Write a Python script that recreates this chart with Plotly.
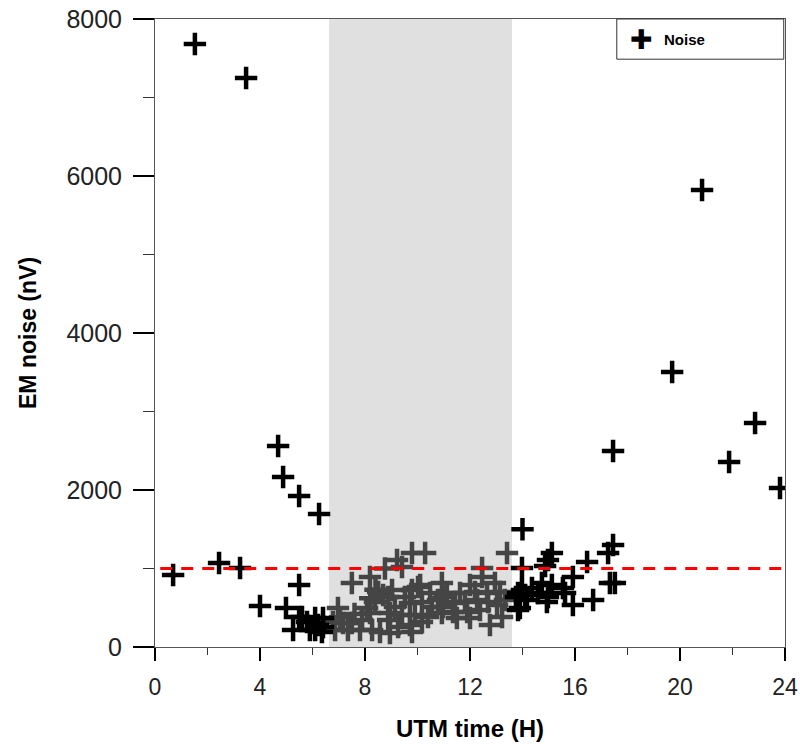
import plotly.graph_objects as go

# Black (outside shaded window) noise points: hour, nV
black_x = [0.69, 1.52, 3.47, 2.44, 3.24, 4.00, 4.69, 4.88, 5.49, 6.25, 5.49, 4.99, 5.49, 5.26,
           5.60, 6.10, 6.10, 6.40, 6.40, 5.90, 6.36, 5.79, 6.21,
           14.0, 13.98, 15.12, 14.97, 14.86, 16.46, 17.26, 17.45, 15.92, 17.33, 17.52, 14.74,
           15.12, 14.36, 15.54, 13.98, 13.75, 14.10, 14.59, 14.97, 15.62, 14.93, 13.90, 15.92,
           16.69, 13.83, 14.17, 13.83, 17.45,
           19.70, 20.84, 21.87, 22.86, 23.81]
black_y = [917, 7682, 7249, 1070, 1006, 522, 2561, 2166, 1924, 1694, 790, 497, 382, 217,
           382, 369, 217, 255, 369, 217, 191, 318, 280,
           1500, 1006, 1197, 1108, 1032, 1083, 1197, 1300, 892, 815, 815, 815,
           790, 752, 752, 726, 637, 662, 688, 637, 688, 573, 497, 535,
           599, 688, 599, 471, 2497,
           3503, 5822, 2357, 2854, 2025]

# Grey (inside shaded window) noise points
grey_x = [6.97, 7.50, 8.19, 8.76, 6.78, 7.16, 7.50, 7.89, 8.19, 8.38, 8.50, 8.69, 6.86, 7.35,
          7.81, 8.27, 8.57, 8.08, 9.79, 10.29, 9.22, 9.41, 10.93, 9.79, 10.02, 9.03, 10.48,
          11.12, 10.78, 9.52, 8.88, 9.14, 9.71, 10.17, 10.55, 10.97, 11.35, 8.95, 9.41, 9.90,
          10.40, 10.93, 9.26, 9.71, 10.17, 8.88, 8.95, 9.79, 13.41, 12.46, 12.46, 12.95, 12.00,
          11.62, 12.19, 12.65, 13.14, 13.33, 11.43, 11.81, 12.27, 12.69, 13.03, 11.35, 11.89,
          12.38, 13.22, 12.76, 11.50, 12.00, 8.40, 8.20, 10.10, 7.05, 7.60, 11.05]
grey_y = [497, 815, 892, 1000, 318, 306, 306, 344, 433, 573, 701, 662, 217, 217,
          217, 217, 191, 497, 1197, 1197, 1108, 1019, 815, 726, 764, 726, 688,
          688, 599, 637, 637, 510, 561, 573, 510, 510, 561, 433, 408, 408,
          382, 433, 255, 280, 318, 344, 178, 191, 1197, 1006, 892, 815, 790,
          688, 701, 688, 701, 599, 573, 573, 599, 573, 535, 446, 446,
          471, 382, 280, 369, 369, 730, 620, 790, 380, 420, 640]

x_ticks = [0, 4, 8, 12, 16, 20, 24]
y_ticks = [0, 2000, 4000, 6000, 8000]
shade_start, shade_end = 6.63, 13.6
threshold = 1000
series_name = "Noise"
x_title = "UTM time (H)"
y_title = "EM noise (nV)"

FONT = "Liberation Sans, Arial, sans-serif"

fig = go.Figure()
fig.add_trace(go.Scatter(
    x=grey_x, y=grey_y, mode="markers", showlegend=False,
    marker=dict(symbol="cross-thin", size=16, line=dict(width=4.5, color="#454545")),
))
fig.add_trace(go.Scatter(
    x=black_x, y=black_y, mode="markers", name=series_name, showlegend=False,
    marker=dict(symbol="cross-thin", size=16, line=dict(width=4.5, color="black")),
))

fig.add_shape(type="rect", xref="x", yref="paper", x0=shade_start, x1=shade_end, y0=0, y1=1,
              fillcolor="#e0e0e0", line=dict(width=0), layer="below")
fig.add_shape(type="line", xref="x", yref="y", x0=0.2, x1=24.2, y0=threshold, y1=threshold,
              line=dict(color="red", width=3, dash="12px,9px"), layer="above")

# legend box (drawn manually)
fig.add_shape(type="rect", xref="paper", yref="paper", x0=0.733, x1=0.998, y0=0.936, y1=1.0,
              fillcolor="white", line=dict(color="#333", width=1), layer="above")
fig.add_annotation(xref="paper", yref="paper", x=0.7725, y=0.968, text="✚", showarrow=False,
                   xanchor="center", yanchor="middle",
                   font=dict(size=27, color="black", family="DejaVu Sans"))
fig.add_annotation(xref="paper", yref="paper", x=0.804, y=0.968, text="<b>" + series_name + "</b>",
                   showarrow=False, xanchor="left", yanchor="middle",
                   font=dict(size=15, color="black", family=FONT))

# axis titles
fig.add_annotation(xref="paper", yref="paper", x=0.5, y=-0.129, text="<b>" + x_title + "</b>",
                   showarrow=False, xanchor="center", yanchor="middle",
                   font=dict(size=24, color="black", family=FONT))
fig.add_annotation(xref="paper", yref="paper", x=-0.2016, y=0.5, text="<b>" + y_title + "</b>",
                   showarrow=False, xanchor="center", yanchor="middle", textangle=-90,
                   font=dict(size=23, color="black", family=FONT))

fig.update_layout(
    width=800, height=744,
    margin=dict(l=155, r=15, t=19, b=97),
    plot_bgcolor="white", paper_bgcolor="white",
    font=dict(family=FONT, color="black"),
    showlegend=False,
)
fig.update_xaxes(
    range=[0, 24], tickvals=x_ticks, ticktext=[str(v) for v in x_ticks], automargin=False,
    ticks="outside", ticklen=13, tickwidth=2, tickcolor="black", ticklabelstandoff=6,
    minor=dict(dtick=2, ticks="outside", ticklen=7, tickwidth=1, tickcolor="#333"),
    showline=True, linecolor="#555", linewidth=1, mirror=True, showgrid=False, zeroline=False,
    tickfont=dict(size=23, color="#222"),
)
fig.update_yaxes(
    range=[0, 8000], tickvals=y_ticks, ticktext=[str(v) for v in y_ticks], automargin=False,
    ticks="outside", ticklen=21, tickwidth=2, tickcolor="black", ticklabelstandoff=6,
    minor=dict(dtick=1000, ticks="outside", ticklen=11, tickwidth=1, tickcolor="#333"),
    showline=True, linecolor="#555", linewidth=1, mirror=True, showgrid=False, zeroline=False,
    tickfont=dict(size=25, color="#222"),
)

fig.write_html("out.html")
